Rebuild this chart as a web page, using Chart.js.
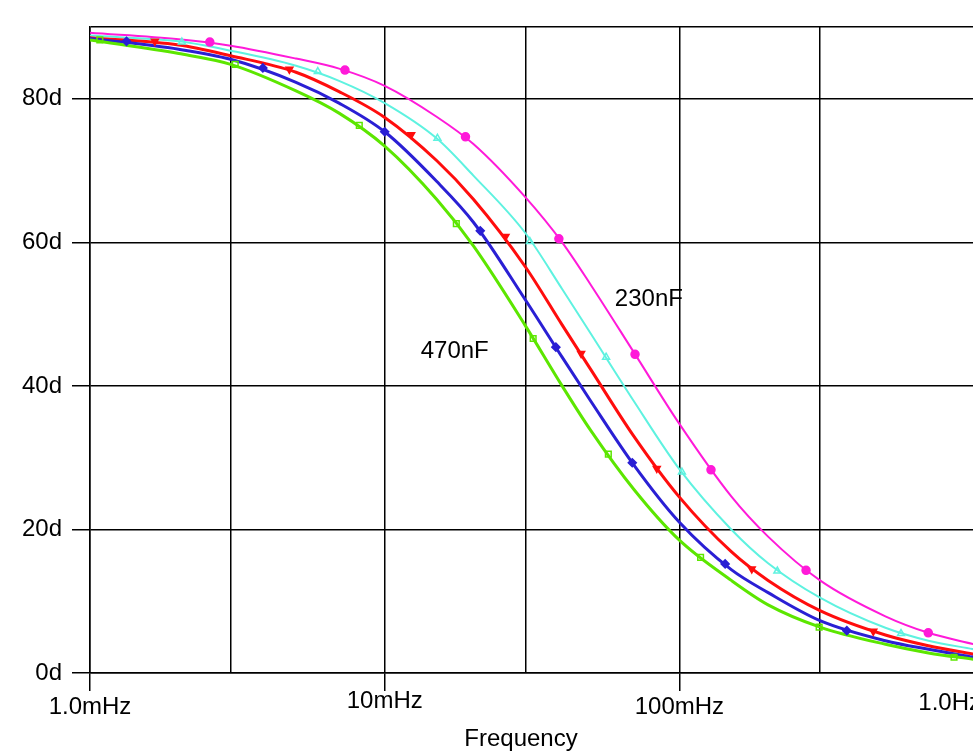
<!DOCTYPE html>
<html>
<head>
<meta charset="utf-8">
<script src="https://cdn.jsdelivr.net/npm/chart.js@4.4.1/dist/chart.umd.min.js"></script>
<style>
  html, body { margin: 0; padding: 0; background: #fff; overflow: hidden; }
  canvas { display: block; }
</style>
</head>
<body>
<canvas id="phaseChart" width="973" height="755"></canvas>
<script>
// frequencies in mHz, phase in degrees
const freqs = [1, 2, 3, 5, 7, 10, 15, 20, 30, 40, 50, 70, 100, 150, 200, 300, 500, 700, 1000];

const phaseMagenta = [89.2, 88.3, 87.4, 85.6, 84.2, 81.8, 77.5, 73.7, 66.3, 60.0, 54.1, 44.7, 34.7, 24.6, 19.0, 12.9, 7.9, 5.6, 4.0];
const phaseCyan    = [88.8, 88.0, 86.7, 84.6, 82.5, 79.4, 74.5, 69.3, 61.3, 53.5, 47.3, 37.9, 28.4, 20.0, 15.3, 10.5, 6.3, 4.5, 3.3];
const phaseRed     = [88.5, 87.5, 86.0, 83.7, 81.0, 77.4, 71.4, 66.0, 56.6, 48.5, 42.3, 33.0, 24.5, 16.9, 12.9, 8.7, 5.3, 3.8, 2.6];
const phaseBlue    = [88.4, 86.9, 85.5, 82.3, 79.4, 75.4, 68.5, 62.8, 52.0, 44.0, 37.9, 29.0, 21.0, 14.4, 11.2, 7.3, 4.5, 3.3, 2.2];
const phaseGreen   = [88.2, 86.3, 84.8, 81.1, 78.0, 73.4, 66.0, 59.5, 48.4, 40.0, 33.8, 25.6, 18.5, 12.9, 9.5, 6.4, 4.0, 2.8, 1.9];

// trace markers
const markFreqMagenta  = [2.55, 7.33, 18.8, 39.0, 70.7, 128, 269, 699];
const markPhaseMagenta = [87.9, 84.0, 74.7, 60.5, 44.4, 28.3, 14.3, 5.6];
const markFreqCyan     = [2.05, 5.93, 15.1, 31.1, 56.4, 102, 215, 565];
const markPhaseCyan    = [87.9, 83.8, 74.5, 60.1, 44.0, 28.0, 14.2, 5.5];
const markFreqRed      = [1.66, 4.75, 12.3, 25.7, 46.4, 83.8, 176, 455];
const markPhaseRed     = [88.0, 84.1, 75.0, 60.8, 44.5, 28.5, 14.5, 5.8];
const markFreqBlue     = [1.33, 3.86, 10.0, 21.1, 38.1, 69.2, 143, 370];
const markPhaseBlue    = [88.0, 84.3, 75.4, 61.6, 45.4, 29.3, 15.2, 5.9];
const markFreqGreen    = [1.08, 3.11, 8.2, 17.5, 31.9, 57.4, 118, 298, 855];
const markPhaseGreen   = [88.2, 84.8, 76.3, 62.6, 46.6, 30.5, 16.1, 6.4, 2.2];

const xGridValues = [1, 3, 10, 30, 100, 300];
const xLabelValues = [1, 10, 100, 1000];
const xLabelText = ['1.0mHz', '10mHz', '100mHz', '1.0Hz'];
const yTickValues = [0, 20, 40, 60, 80];
const yTickLabels = ['0d', '20d', '40d', '60d', '80d'];

const FONT = '"Liberation Sans", Arial, sans-serif';

function curve(label, phases, color, width) {
    return {
        type: 'line',
        label: label,
        data: freqs.map((f, i) => ({ x: f, y: phases[i] })),
        borderColor: color,
        borderWidth: width,
        pointRadius: 0,
        cubicInterpolationMode: 'monotone',
        fill: false
    }
}

function marks(label, fs, ps, color, style, filled, rot) {
    return {
        type: 'scatter',
        label: label,
        data: fs.map((f, i) => ({ x: f, y: ps[i] })),
        pointStyle: style,
        pointRadius: 4,
        pointRotation: rot || 0,
        borderColor: color,
        backgroundColor: filled ? color : 'rgba(0,0,0,0)',
        pointBorderWidth: 1.5,
        showLine: false
    }
}

const cMagenta = '#ff1ad9';
const cCyan = '#5ef2e0';
const cRed = '#ff0d0d';
const cBlue = '#2a1fd4';
const cGreen = '#5ce600';

// labels, axis title and x tick labels drawn by hand (PSpice places them a bit oddly)
const textPlugin = {
    id: 'pspiceText',
    afterDraw(chart) {
        const ctx = chart.ctx;
        const x = chart.scales.x;
        const y = chart.scales.y;
        ctx.save();
        ctx.font = '24px ' + FONT;
        ctx.fillStyle = '#000';
        ctx.textBaseline = 'alphabetic';
        ctx.textAlign = 'left';
        const baselines = [714, 708, 714, 710];
        xLabelText.forEach((t, i) => {
            const w = ctx.measureText(t).width;
            let left = x.getPixelForValue(xLabelValues[i]) - w / 2;
            if (left + w > 981) left = 981 - w;
            ctx.fillText(t, left, baselines[i]);
        });
        ctx.fillText('230nF', x.getPixelForValue(60.4), y.getPixelForValue(51.1));
        ctx.fillText('470nF', x.getPixelForValue(13.25), y.getPixelForValue(43.9));
        ctx.textAlign = 'center';
        ctx.fillText('Frequency', 521, 746);
        ctx.restore();
    }
};

const ctx = document.getElementById('phaseChart').getContext('2d');

const phaseChart = new Chart(ctx, {
    type: 'line',
    data: {
        datasets: [
            marks('m470', markFreqGreen, markPhaseGreen, cGreen, 'rect', false),
            marks('m390', markFreqBlue, markPhaseBlue, cBlue, 'rectRot', true),
            marks('m330', markFreqRed, markPhaseRed, cRed, 'triangle', true, 180),
            marks('m270', markFreqCyan, markPhaseCyan, cCyan, 'triangle', false),
            marks('m230', markFreqMagenta, markPhaseMagenta, cMagenta, 'circle', true),
            curve('470nF', phaseGreen, cGreen, 3),
            curve('390nF', phaseBlue, cBlue, 3),
            curve('330nF', phaseRed, cRed, 3),
            curve('270nF', phaseCyan, cCyan, 2),
            curve('230nF', phaseMagenta, cMagenta, 2)
        ]
    },
    options: {
        responsive: false,
        animation: false,
        events: [],
        layout: { autoPadding: false, padding: { top: 27, left: 0, right: 0, bottom: 0 } },
        plugins: {
            legend: { display: false },
            tooltip: { enabled: false }
        },
        scales: {
            x: {
                type: 'logarithmic',
                min: 1,
                max: 991.5,
                afterBuildTicks: s => { s.ticks = xGridValues.map(v => ({ value: v })) },
                afterFit: s => { s.height = 82; s.paddingLeft = 0; s.paddingRight = 0 },
                ticks: { display: false },
                grid: {
                    color: '#000',
                    lineWidth: 1.5,
                    tickLength: 18,
                    tickWidth: 1.5,
                    tickColor: c => xLabelValues.includes(c.tick.value) ? '#000' : 'rgba(0,0,0,0)'
                },
                border: { color: '#000', width: 1.5 }
            },
            y: {
                min: 0,
                max: 90,
                afterBuildTicks: s => { s.ticks = yTickValues.concat([90]).map(v => ({ value: v })) },
                afterFit: s => { s.width = 90; s.paddingTop = 0; s.paddingBottom = 0 },
                ticks: {
                    callback: v => { const i = yTickValues.indexOf(v); return i < 0 ? '' : yTickLabels[i] },
                    font: { family: FONT, size: 24 },
                    color: '#000',
                    padding: 10
                },
                grid: {
                    color: '#000',
                    lineWidth: 1.5,
                    tickLength: 18,
                    tickWidth: 1.5,
                    tickColor: c => c.tick.value === 90 ? 'rgba(0,0,0,0)' : '#000'
                },
                border: { color: '#000', width: 1.5 }
            }
        }
    },
    plugins: [textPlugin]
});
</script>
</body>
</html>
